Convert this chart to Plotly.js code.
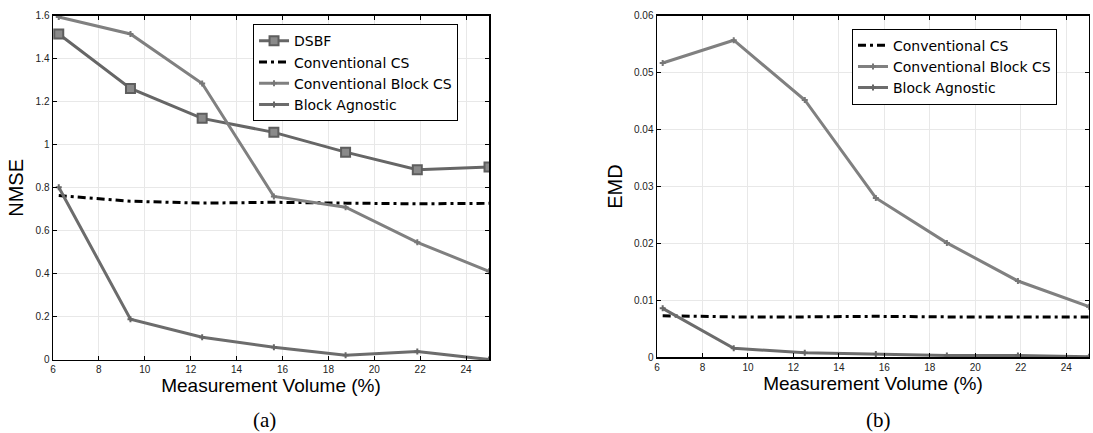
<!DOCTYPE html>
<html>
<head>
<meta charset="utf-8">
<script src="https://cdn.plot.ly/plotly-3.0.1.min.js"></script>
<style>
  html, body { margin: 0; padding: 0; background: #fff; }
  #chart { width: 1093px; height: 433px; }
</style>
</head>
<body>
<div id="chart"></div>
<script>
// Measurement volume (%) shared by both panels
const volume = [6.25, 9.375, 12.5, 15.625, 18.75, 21.875, 25];

// Panel (a): NMSE
const nmseDSBF = [1.515, 1.262, 1.123, 1.058, 0.966, 0.884, 0.897];
const nmseConvCS = [0.764, 0.738, 0.729, 0.733, 0.729, 0.726, 0.728];
const nmseConvBlockCS = [1.594, 1.515, 1.285, 0.760, 0.710, 0.547, 0.412];
const nmseBlockAgnostic = [0.803, 0.189, 0.106, 0.059, 0.022, 0.039, 0.002];

// Panel (b): EMD
const emdConvCS = [0.0073, 0.0071, 0.0071, 0.0072, 0.0071, 0.0071, 0.0071];
const emdConvBlockCS = [0.0517, 0.0557, 0.0452, 0.0280, 0.0201, 0.0134, 0.0089];
const emdBlockAgnostic = [0.0086, 0.0016, 0.0008, 0.0006, 0.0003, 0.0003, 0.0001];

const seriesNames = ['DSBF', 'Conventional CS', 'Conventional Block CS', 'Block Agnostic'];
const captions = ['(a)', '(b)'];

const lineDSBF = '#666666';
const lineConvBlock = '#808080';
const lineAgnostic = '#6c6c6c';

function dsbfTrace(y, xa, ya, legend) {
  return {
    x: volume, y: y, xaxis: xa, yaxis: ya, legend: legend,
    name: seriesNames[0], mode: 'lines+markers',
    line: { color: lineDSBF, width: 3 },
    marker: { symbol: 'square', size: 9, color: '#8a8a8a', line: { color: '#5e5e5e', width: 2 } }
  };
}
function convCSTrace(y, xa, ya, legend) {
  return {
    x: volume, y: y, xaxis: xa, yaxis: ya, legend: legend,
    name: seriesNames[1], mode: 'lines',
    line: { color: '#000000', width: 3, dash: '8px,4px,3px,4px' }
  };
}
function convBlockTrace(y, xa, ya, legend) {
  return {
    x: volume, y: y, xaxis: xa, yaxis: ya, legend: legend,
    name: seriesNames[2], mode: 'lines+markers',
    line: { color: lineConvBlock, width: 3 },
    marker: { symbol: 'cross', size: 5, color: '#777777' }
  };
}
function agnosticTrace(y, xa, ya, legend) {
  return {
    x: volume, y: y, xaxis: xa, yaxis: ya, legend: legend,
    name: seriesNames[3], mode: 'lines+markers',
    line: { color: lineAgnostic, width: 3 },
    marker: { symbol: 'cross', size: 5, color: '#666666' }
  };
}

const data = [
  dsbfTrace(nmseDSBF, 'x', 'y', 'legend'),
  convCSTrace(nmseConvCS, 'x', 'y', 'legend'),
  convBlockTrace(nmseConvBlockCS, 'x', 'y', 'legend'),
  agnosticTrace(nmseBlockAgnostic, 'x', 'y', 'legend'),
  convCSTrace(emdConvCS, 'x2', 'y2', 'legend2'),
  convBlockTrace(emdConvBlockCS, 'x2', 'y2', 'legend2'),
  agnosticTrace(emdBlockAgnostic, 'x2', 'y2', 'legend2')
];

const tickFont = { family: 'Liberation Sans, Arial, sans-serif', size: 10, color: '#222' };
const titleFont = { family: 'Liberation Sans, Arial, sans-serif', size: 19, color: '#000' };

function xAxis(domain, anchor) {
  return {
    domain: domain, anchor: anchor, range: [6, 25],
    tick0: 6, dtick: 2, ticks: 'inside', ticklen: 4, tickcolor: '#000',
    showline: true, linecolor: '#000', linewidth: 1.5, mirror: 'ticks',
    showgrid: true, gridcolor: '#e8e8e8', zeroline: false,
    tickfont: tickFont,
    title: { text: 'Measurement Volume (%)', font: titleFont, standoff: 3 }
  };
}
function yAxis(domain, anchor, range, dtick, title) {
  return {
    domain: domain, anchor: anchor, range: range, dtick: dtick,
    ticks: 'inside', ticklen: 4, tickcolor: '#000',
    showline: true, linecolor: '#000', linewidth: 1.5, mirror: 'ticks',
    showgrid: true, gridcolor: '#e8e8e8', zeroline: false,
    tickfont: tickFont,
    title: { text: title, font: { family: titleFont.family, size: 20, color: '#000' }, standoff: 6 }
  };
}

const legendFont = { family: 'DejaVu Sans, Liberation Sans, sans-serif', size: 14, color: '#000' };

const layout = {
  width: 1093, height: 433,
  margin: { l: 0, r: 0, t: 0, b: 0 },
  paper_bgcolor: '#fff', plot_bgcolor: '#fff',
  showlegend: true,
  xaxis: xAxis([0.0485, 0.4474], 'y'),
  yaxis: yAxis([0.1686, 0.9637], 'x', [0, 1.6], 0.2, 'NMSE'),
  xaxis2: xAxis([0.6011, 0.9963], 'y2'),
  yaxis2: yAxis([0.1748, 0.9637], 'x2', [0, 0.06], 0.01, 'EMD'),
  legend: {
    x: 0.2315, y: 0.944, xanchor: 'left', yanchor: 'top',
    bgcolor: '#fff', bordercolor: '#000', borderwidth: 1,
    font: legendFont, tracegroupgap: 0, itemwidth: 30
  },
  legend2: {
    x: 0.7795, y: 0.934, xanchor: 'left', yanchor: 'top',
    bgcolor: '#fff', bordercolor: '#000', borderwidth: 1,
    font: legendFont, tracegroupgap: 0, itemwidth: 30
  },
  annotations: [
    { text: captions[0], xref: 'paper', yref: 'paper', x: 264 / 1093, y: 1 - 420 / 433,
      xanchor: 'center', yanchor: 'middle', showarrow: false,
      font: { family: 'Liberation Serif, Times New Roman, serif', size: 21, color: '#000' } },
    { text: captions[1], xref: 'paper', yref: 'paper', x: 878 / 1093, y: 1 - 420 / 433,
      xanchor: 'center', yanchor: 'middle', showarrow: false,
      font: { family: 'Liberation Serif, Times New Roman, serif', size: 21, color: '#000' } }
  ]
};

Plotly.newPlot('chart', data, layout, { staticPlot: true, displayModeBar: false });
</script>
</body>
</html>
